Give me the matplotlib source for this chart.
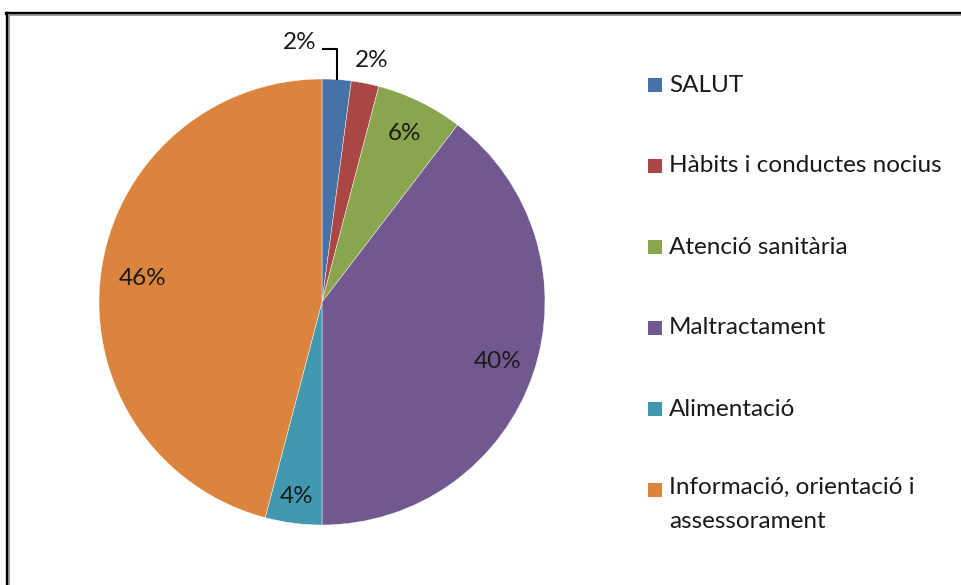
import matplotlib
matplotlib.use("Agg")
import matplotlib.pyplot as plt
from matplotlib.patches import Rectangle
from matplotlib.lines import Line2D
import numpy as np

categories = ["SALUT", "Hàbits i conductes nocius", "Atenció sanitària",
              "Maltractament", "Alimentació", "Informació, orientació i\nassessorament"]
values = [2.1, 2.0, 6.3, 39.6, 4.1, 45.9]
colors = ["#4672A8", "#AA4744", "#89A54E", "#71588F", "#4198AF", "#DB843D"]

plt.rcParams['font.family'] = ['Lato', 'DejaVu Sans']

W, H = 961, 585
FS = 17.5
fig = plt.figure(figsize=(W / 100, H / 100), dpi=100)
fig.patch.set_facecolor("white")

# pie axes: center (322,302), radius 223 px
cx, cy, r = 322, 302, 223
ax = fig.add_axes([(cx - r) / W, (H - cy - r) / H, 2 * r / W, 2 * r / H])
wedges, texts, autotexts = ax.pie(
    values, colors=colors, startangle=90, counterclock=False,
    autopct=lambda p: f"{p:.0f}%", pctdistance=0.84,
    wedgeprops=dict(linewidth=0.3, edgecolor="white"),
    textprops=dict(fontsize=FS, color="#1a1a1a"))
ax.set_xlim(-1, 1)
ax.set_ylim(-1, 1)
ax.set_aspect("equal")
ax.axis("off")

def place(i, dist):
    w = wedges[i]
    ang = np.deg2rad((w.theta1 + w.theta2) / 2)
    autotexts[i].set_position((dist * np.cos(ang), dist * np.sin(ang)))

place(2, 0.84)
place(3, 0.83)
place(4, 0.88)
place(5, 0.81)

# small outside labels
autotexts[0].set_position((-0.10, 1.165))
autotexts[1].set_position((0.225, 1.085))
w0 = wedges[0]
a0 = np.deg2rad((w0.theta1 + w0.theta2) / 2)
xe = np.cos(a0)
ye = np.sin(a0)
ax.add_line(Line2D([0.005, xe, xe], [1.135, 1.135, ye], color="black", lw=1.5,
                   clip_on=False))
for t in autotexts:
    t.set_clip_on(False)

# legend drawn manually
leg_y = [85, 166, 247, 328, 409, 490]
for i, (lab, col) in enumerate(zip(categories, colors)):
    y = leg_y[i]
    fig.add_artist(Rectangle((648 / W, (H - y - 7) / H), 14 / W, 14 / H,
                             facecolor=col, edgecolor="none",
                             transform=fig.transFigure))
    if "\n" in lab:
        fig.text(669 / W, (H - y + 13) / H, lab, fontsize=FS, color="#1a1a1a",
                 va="top", ha="left", linespacing=1.75)
    else:
        fig.text(669 / W, (H - y) / H, lab, fontsize=FS, color="#1a1a1a",
                 va="center", ha="left")

# frame lines (black outer, gray inner)
fig.add_artist(Line2D([5.5 / W, 1.0], [(H - 12.5) / H] * 2, color="black", lw=2.4,
                      transform=fig.transFigure))
fig.add_artist(Line2D([6.5 / W] * 2, [0, (H - 12.5) / H], color="black", lw=2.4,
                      transform=fig.transFigure))
fig.add_artist(Line2D([8.5 / W, 1.0], [(H - 14.8) / H] * 2, color="#999999", lw=1.3,
                      transform=fig.transFigure))
fig.add_artist(Line2D([8.8 / W] * 2, [0, (H - 14.8) / H], color="#999999", lw=1.3,
                      transform=fig.transFigure))

fig.savefig("out.png", dpi=100)
